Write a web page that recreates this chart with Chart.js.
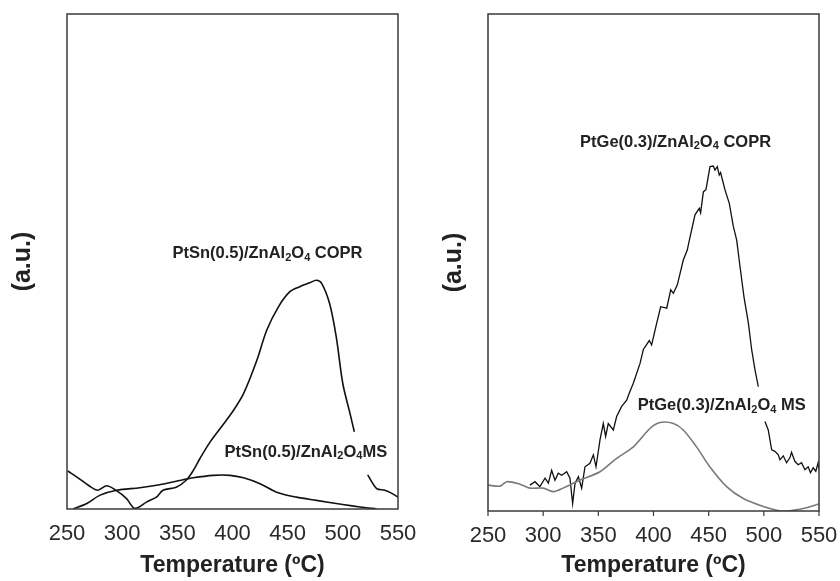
<!DOCTYPE html>
<html>
<head>
<meta charset="utf-8">
<script src="https://cdn.jsdelivr.net/npm/chart.js@4.4.1/dist/chart.umd.min.js"></script>
<style>
  body { margin: 0; background: #fff; }
  .panel { position: absolute; top: 0; width: 420px; height: 581px; }
  #left { left: 0; }
  #right { left: 420px; }
</style>
</head>
<body>
<div class="panel" id="left"><canvas id="snChart" width="420" height="581"></canvas></div>
<div class="panel" id="right"><canvas id="geChart" width="420" height="581"></canvas></div>
<script>
// x axis
const xTicks = [250, 300, 350, 400, 450, 500, 550];

// PtSn(0.5)/ZnAl2O4 COPR (left, black)
const snCoprT = [250.6, 260, 270, 278, 286, 293.5, 304, 310, 314.6, 322, 331, 337, 349, 358, 364.5, 370.5, 379.6, 390, 400.8, 410, 422, 431, 441.5, 452, 461, 470, 476, 480.8, 488, 494, 500, 506.5, 510.4, 516, 522.5, 530.7, 538, 544, 550];
const snCoprV = [7.7, 6.3, 4.7, 3.8, 4.7, 3.9, 2.1, 0.3, 0.3, 1.4, 2.4, 3.8, 4.4, 5.8, 7.8, 10.2, 13.5, 16.6, 19.9, 23.3, 30, 36.1, 40.8, 43.9, 44.9, 45.7, 46.2, 45.6, 41.5, 34.8, 25.3, 19.3, 15.6, null, 6.9, 4.1, 3.8, 3.2, 2.4];

// PtSn(0.5)/ZnAl2O4 MS (left, black)
const snMsT = [255.7, 268, 280, 295, 316, 334, 349, 364.5, 382.6, 397.7, 410, 425, 440, 458, 476, 500, 515.6, 530.7];
const snMsV = [0, 1.1, 2.8, 3.8, 4.3, 4.9, 5.6, 6.3, 6.8, 6.8, 6.3, 5.1, 3.4, 2.4, 1.75, 0.9, 0.4, 0];

// PtGe(0.3)/ZnAl2O4 COPR (right, black, noisy)
const geCoprT = [288, 292.6, 297, 301.7, 304.7, 307.7, 310.7, 313.7, 316.8, 321.3, 324.3, 326.7, 328.9, 331.9, 334.9, 337.9, 342.4, 345.5, 347.9, 351.5, 354.5, 356.6, 359, 363.6, 366.6, 371, 375.7, 378, 381.7, 387.8,
  390.8, 396.2, 398.3, 402.9, 406.5, 412, 415.6, 418, 421.6, 427, 430.6, 432.5, 437.6, 441.5, 442.7, 445.2, 447.6, 451.2, 454.2, 455.7, 457.8, 459.6, 460.8, 464.8, 468.7, 472.3, 475.4, 478.4, 482, 486, 489, 492, 495,
  498, 501, 504, 507.1, 510, 513.1, 514.6, 517.6, 520.6, 523.6, 525.1, 528.1, 531.1, 534.2, 537.2, 540.2, 542.3, 544.7, 547.1, 549.2, 550];
const geCoprV = [5.2, 5.9, 4.9, 6.6, 5.6, 8.2, 6.2, 7.6, 7.2, 7.9, 6.6, 1.5, 5.6, 6.9, 4.6, 8.9, 9.6, 11.3, 8.9, 14.3, 17.6, 15, 17.6, 16.3, 19, 21, 22.3, 23.7, 25.7, 29.7,
  32.5, 34.3, 33.4, 37.8, 41.1, 40.8, 44.5, 43.8, 45.5, 50.5, 52.5, 54.5, 59.6, 60.9, 60, 64.2, 64.7, 69.3, 69.4, 68.6, 69.3, 67.6, 68.1, 64.6, 61.9, 57.3, 54.5, 49.2, 43.1, 37.8, 32.4, 28.4, 25,
  null, 18, 16.3, 12.3, 12, 11.3, 10.3, 11.1, 9.7, 10.7, 11.8, 10, 9.3, 9.7, 8.3, 8.9, 7.7, 8.7, 8, 9.7, 8.3];

// PtGe(0.3)/ZnAl2O4 MS (right, grey)
const geMsT = [250.3, 261, 267, 279, 288, 300, 309, 318, 333, 351.5, 366.6, 381.7, 396.8, 405.9, 418, 427, 439, 451, 466.3, 481.4, 499.5, 514.7, 520.7, 535.8, 550];
const geMsV = [5.2, 5, 5.9, 5.4, 4.6, 4.6, 3.9, 4.6, 6.2, 7.9, 10.6, 12.9, 16.6, 17.8, 17.6, 16.3, 12.9, 8.9, 4.9, 2.5, 0.9, 0, 0, 0.5, 1.4];

// curve labels: [text, subscript] pieces, placed at data coordinates
const snLabels = [
  { parts: [['PtSn(0.5)/ZnAl', 0], ['2', 1], ['O', 0], ['4', 1], [' COPR', 0]], t: 431.7, v: 51.6 },
  { parts: [['PtSn(0.5)/ZnAl', 0], ['2', 1], ['O', 0], ['4', 1], ['MS', 0]], t: 466.5, v: 11.5 }
];
const geLabels = [
  { parts: [['PtGe(0.3)/ZnAl', 0], ['2', 1], ['O', 0], ['4', 1], [' COPR', 0]], t: 420, v: 74.2 },
  { parts: [['PtGe(0.3)/ZnAl', 0], ['2', 1], ['O', 0], ['4', 1], [' MS', 0]], t: 461.8, v: 21.2 }
];

const FONT = "'Liberation Sans', Arial, sans-serif";

function pairs(ts, vs) {
  return ts.map((t, i) => ({ x: t, y: vs[i] }));
}

// frame round the plot + optional small tick marks under the x axis
const boxPlugin = {
  id: 'box',
  afterDraw(chart, args, opts) {
    const a = chart.chartArea;
    const ctx = chart.ctx;
    ctx.save();
    ctx.strokeStyle = '#3a3a3a';
    ctx.lineWidth = 1.5;
    ctx.strokeRect(a.left, a.top, a.right - a.left, a.bottom - a.top);
    if (opts.ticks) {
      ctx.lineWidth = 1.2;
      ctx.beginPath();
      xTicks.forEach(v => {
        const x = chart.scales.x.getPixelForValue(v);
        ctx.moveTo(x, a.bottom);
        ctx.lineTo(x, a.bottom + opts.ticks);
      });
      ctx.stroke();
    }
    ctx.restore();
  }
};

const labelPlugin = {
  id: 'curveLabels',
  afterDatasetsDraw(chart, args, opts) {
    const ctx = chart.ctx;
    const xs = chart.scales.x, ys = chart.scales.y;
    ctx.save();
    ctx.fillStyle = '#222';
    ctx.textBaseline = 'middle';
    ctx.textAlign = 'left';
    (opts.items || []).forEach(l => {
      let w = 0;
      l.parts.forEach(p => {
        ctx.font = 'bold ' + (p[1] ? 11 : 16.5) + 'px ' + FONT;
        w += ctx.measureText(p[0]).width;
      });
      let x = xs.getPixelForValue(l.t) - w / 2;
      const y = ys.getPixelForValue(l.v);
      l.parts.forEach(p => {
        ctx.font = 'bold ' + (p[1] ? 11 : 16.5) + 'px ' + FONT;
        ctx.fillText(p[0], x, p[1] ? y + 4 : y);
        x += ctx.measureText(p[0]).width;
      });
    });
    ctx.restore();
  }
};

function makeChart(id, datasets, labels, cfg) {
  return new Chart(document.getElementById(id), {
    type: 'line',
    data: { datasets: datasets },
    options: {
      responsive: false,
      animation: false,
      layout: { padding: { top: 14, right: cfg.padRight, left: 0, bottom: 0 } },
      plugins: {
        legend: { display: false },
        tooltip: { enabled: false },
        curveLabels: { items: labels },
        box: { ticks: cfg.tickMarks }
      },
      elements: { point: { radius: 0 } },
      scales: {
        x: {
          type: 'linear',
          min: 250, max: 550,
          afterBuildTicks: s => { s.ticks = xTicks.map(v => ({ value: v })); },
          afterFit: s => { s.height = cfg.xHeight; },
          grid: { display: true, drawOnChartArea: false, drawTicks: true, tickLength: cfg.tickLen, color: 'rgba(0,0,0,0)' },
          border: { display: false },
          ticks: { color: '#2a2a2a', font: { family: FONT, size: 22 }, padding: 2, maxRotation: 0 },
          title: { display: true, text: 'Temperature (ºC)', color: '#222', font: { family: FONT, size: 23, weight: 'bold' }, padding: { top: 4, bottom: 2 } }
        },
        y: {
          min: 0, max: 100,
          afterFit: s => { s.width = cfg.yWidth; },
          grid: { display: false },
          border: { display: false },
          ticks: { display: false },
          title: { display: true, text: '(a.u.)', color: '#222', font: { family: FONT, size: 25, weight: 'bold' }, padding: { top: cfg.yTitlePad } }
        }
      }
    },
    plugins: [boxPlugin, labelPlugin]
  });
}

makeChart('snChart', [
  { data: pairs(snCoprT, snCoprV), borderColor: '#111', borderWidth: 1.6, tension: 0.3, spanGaps: false },
  { data: pairs(snMsT, snMsV), borderColor: '#111', borderWidth: 1.6, tension: 0.3 }
], snLabels, { padRight: 22, xHeight: 72, yWidth: 67, yTitlePad: 8, tickLen: 10, tickMarks: 0 });

makeChart('geChart', [
  { data: pairs(geMsT, geMsV), borderColor: '#7a7a7a', borderWidth: 1.6, tension: 0.3 },
  { data: pairs(geCoprT, geCoprV), borderColor: '#111', borderWidth: 1.3, tension: 0, spanGaps: false }
], geLabels, { padRight: 21, xHeight: 70, yWidth: 68, yTitlePad: 19, tickLen: 10, tickMarks: 5 });
</script>
</body>
</html>
